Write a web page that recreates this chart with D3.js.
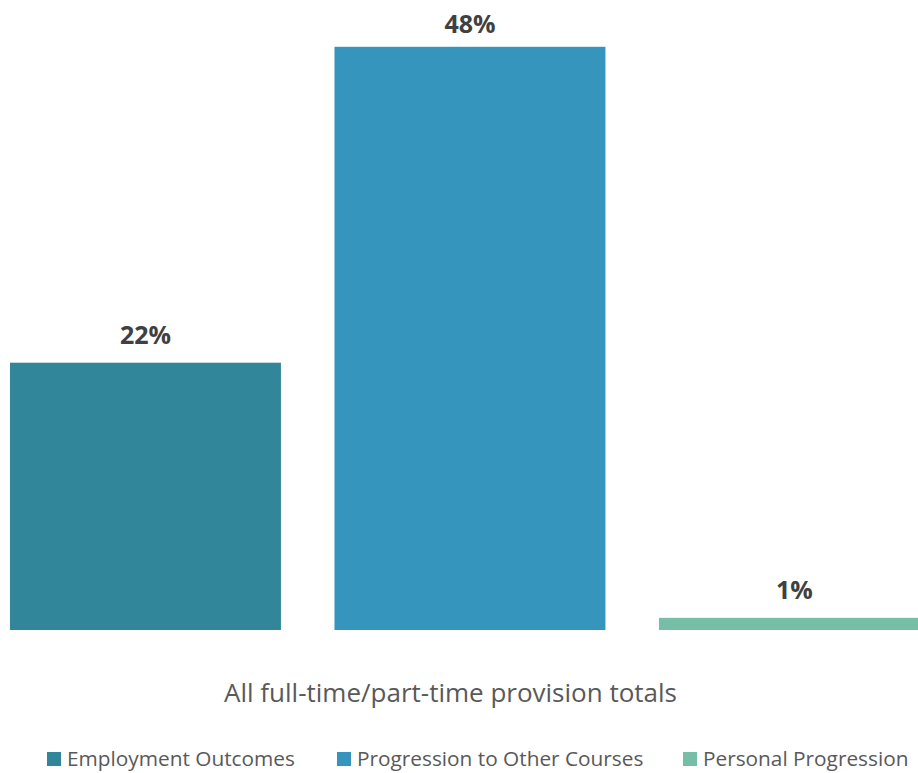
<!DOCTYPE html>
<html>
<head>
<meta charset="utf-8">
<script src="https://cdn.jsdelivr.net/npm/d3@7"></script>
<style>
  html, body { margin: 0; padding: 0; background: #fff; }
  svg { display: block; }
</style>
</head>
<body>
<svg id="chart" width="918" height="773"></svg>
<script>
// Outcome categories and their share of all provision (percent)
const categories = ["Employment Outcomes", "Progression to Other Courses", "Personal Progression"];
const values = [22, 48, 1];
const colors = ["#31869a", "#3595bc", "#77bea6"];
const groupLabel = "All full-time/part-time provision totals";

const svg = d3.select("#chart");
const baseY = 630;
const font = "'Open Sans', 'Noto Sans', sans-serif";

// Bars sit side by side within one group; the plot runs past the right edge
const x = d3.scaleBand()
  .domain(categories)
  .range([-16.8, 956.7])
  .paddingInner(0.165)
  .paddingOuter(0.0825);

const y = d3.scaleLinear()
  .domain([0, 50])
  .range([baseY, baseY - 50 * 12.15]);

svg.append("g")
  .selectAll("rect")
  .data(categories)
  .join("rect")
  .attr("x", d => x(d))
  .attr("y", (d, i) => y(values[i]))
  .attr("width", x.bandwidth())
  .attr("height", (d, i) => baseY - y(values[i]))
  .attr("fill", (d, i) => colors[i]);

// Value labels above each bar
svg.append("g")
  .selectAll("text")
  .data(categories)
  .join("text")
  .attr("x", d => x(d) + x.bandwidth() / 2)
  .attr("y", (d, i) => Math.max(y(values[i]) - 19, 33))
  .attr("text-anchor", "middle")
  .attr("font-family", font)
  .attr("font-weight", 700)
  .attr("font-size", 25)
  .attr("fill", "#404040")
  .text((d, i) => values[i] + "%");

// Category axis title
svg.append("text")
  .attr("x", 450.5)
  .attr("y", 702)
  .attr("text-anchor", "middle")
  .attr("font-family", font)
  .attr("font-size", 26)
  .attr("fill", "#595959")
  .text(groupLabel);

// Legend
const legendX = [47, 337, 683];
const lg = svg.append("g")
  .selectAll("g")
  .data(categories)
  .join("g")
  .attr("transform", (d, i) => `translate(${legendX[i]},0)`);

lg.append("rect")
  .attr("x", 0)
  .attr("y", 752)
  .attr("width", 14)
  .attr("height", 14)
  .attr("fill", (d, i) => colors[i]);

lg.append("text")
  .attr("x", 20)
  .attr("y", 766)
  .attr("font-family", font)
  .attr("font-size", 20.8)
  .attr("fill", "#595959")
  .text(d => d);
</script>
</body>
</html>
